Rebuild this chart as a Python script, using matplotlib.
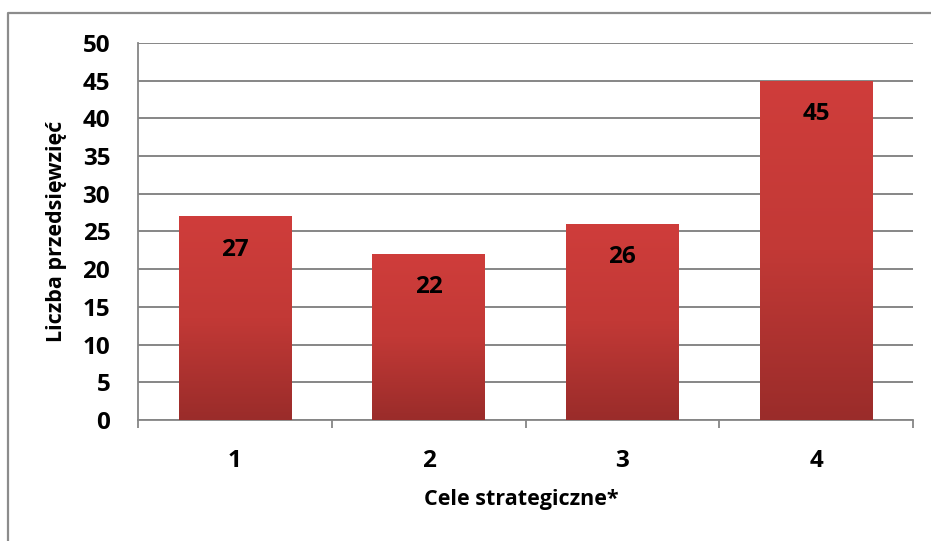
import matplotlib.pyplot as plt
import numpy as np
from matplotlib.colors import LinearSegmentedColormap
from matplotlib.lines import Line2D

plt.rcParams['font.family'] = ['Open Sans', 'DejaVu Sans']
plt.rcParams['font.weight'] = 'bold'

categories = ['1', '2', '3', '4']
values = [27, 22, 26, 45]
y_ticks = [0, 5, 10, 15, 20, 25, 30, 35, 40, 45, 50]

fig = plt.figure(figsize=(9.31, 5.41), dpi=100)
# ramka - widoczna tylko lewa i gorna krawedz
fig.lines.append(Line2D([7.5 / 931, 7.5 / 931, 1.0], [0.0, 1 - 12.5 / 541, 1 - 12.5 / 541],
                        transform=fig.transFigure, color='#8c8c8c', linewidth=1.6))

ax = fig.add_axes([138 / 931, 121 / 541, 775 / 931, 377 / 541])

x = np.arange(len(categories))
bars = ax.bar(x, values, width=0.58, color='none', zorder=3)

# gradient w slupkach
cmap = LinearSegmentedColormap.from_list('grad', ['#9a2c2a', '#c23936', '#cf3d3b'])
grad = np.linspace(0, 1, 256).reshape(-1, 1)
for b in bars:
    x0, w, h = b.get_x(), b.get_width(), b.get_height()
    im = ax.imshow(grad, cmap=cmap, aspect='auto', origin='lower',
                   extent=[x0, x0 + w, 0, h], zorder=3)
    im.set_clip_path(b)
    ax.text(x0 + w / 2, h - 4.4, str(int(h)), ha='center', va='center',
            fontsize=17.5, fontweight='bold', zorder=4)

ax.set_xlim(-0.5, len(categories) - 0.5)
ax.set_ylim(0, 50)
ax.set_yticks(y_ticks)
ax.set_xticks(x)
ax.set_xticklabels(categories)
ax.set_xticks(np.arange(-0.5, len(categories), 1), minor=True)

ax.grid(axis='y', color='#868686', linewidth=1.4, zorder=1)
ax.set_axisbelow(True)
for s in ['top', 'right']:
    ax.spines[s].set_visible(False)
ax.spines['left'].set_color('#868686')
ax.spines['bottom'].set_color('#868686')
ax.spines['left'].set_linewidth(1.3)
ax.spines['bottom'].set_linewidth(1.3)

ax.tick_params(axis='y', length=0, pad=20, labelsize=17.5)
ax.tick_params(axis='x', which='major', length=0, pad=21, labelsize=17.5)
ax.tick_params(axis='x', which='minor', length=6, color='#868686', width=1.3)

ax.set_ylabel('Liczba przedsięwzięć', fontsize=15.5, fontweight='bold')
ax.set_xlabel('Cele strategiczne*', fontsize=15.5, fontweight='bold')
ax.yaxis.set_label_coords(-0.105, 0.5)
ax.xaxis.set_label_coords(0.495, -0.212)
ax.xaxis.label.set_va('center')
ax.yaxis.label.set_va('center')

plt.savefig('out.png', dpi=100)
